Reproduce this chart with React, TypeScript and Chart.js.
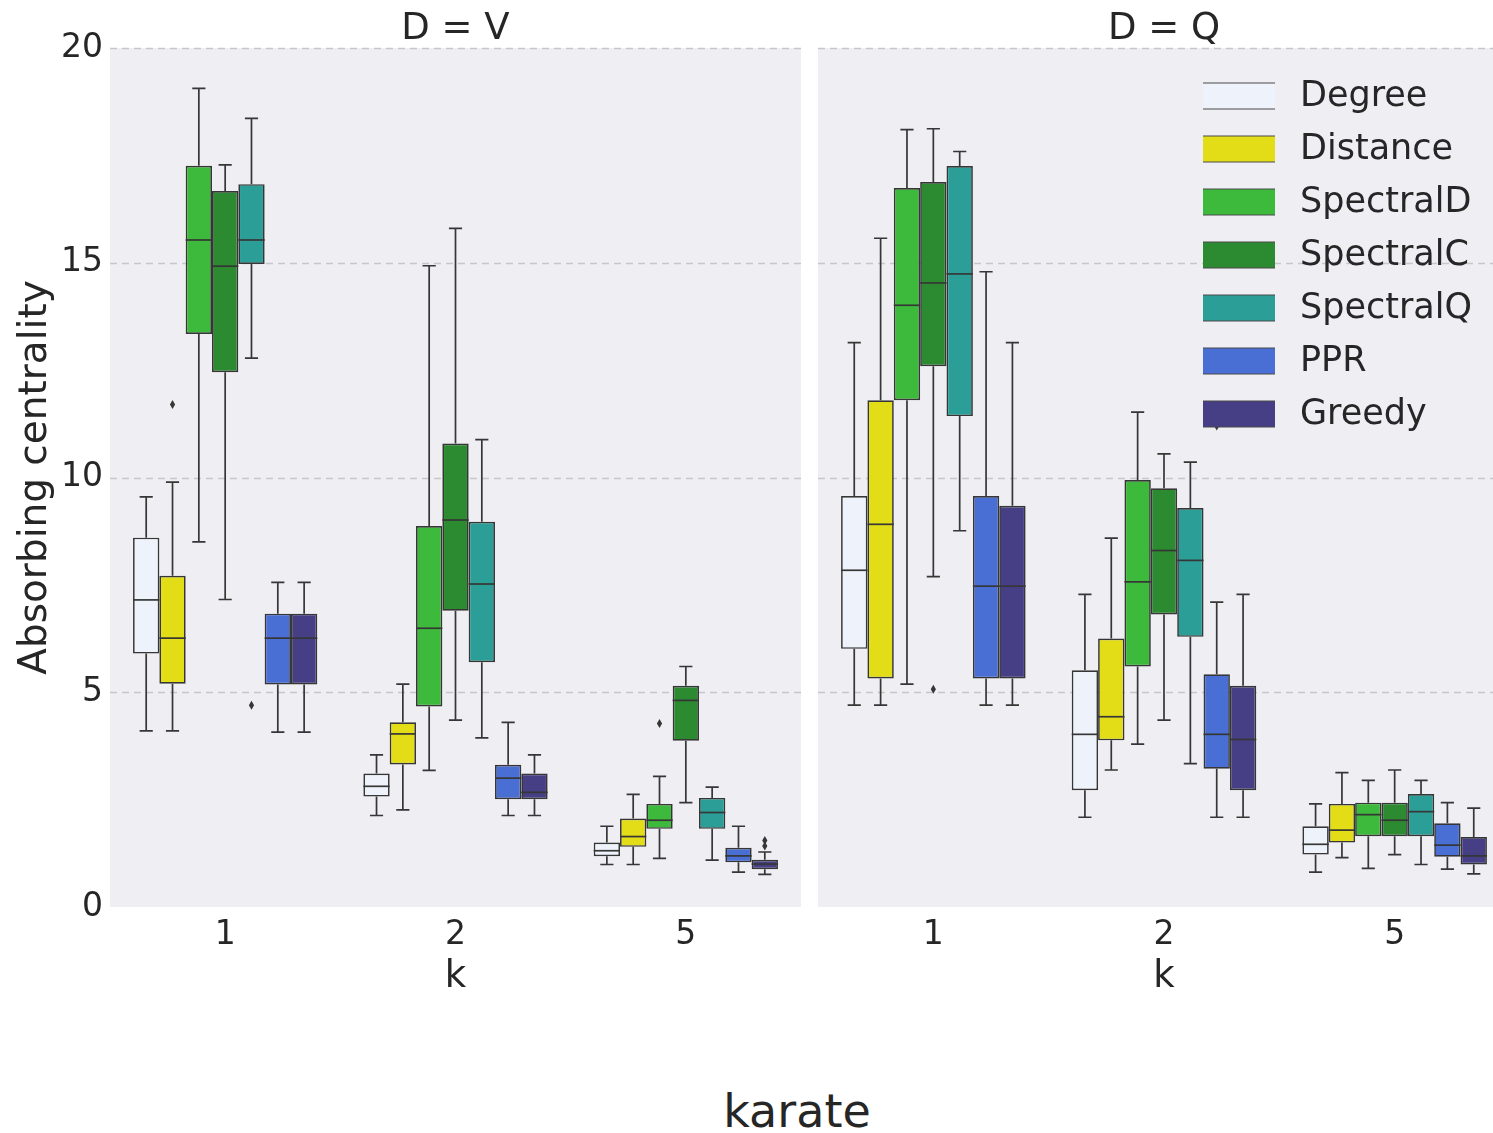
import React, { useEffect, useRef } from 'react';
import { Chart, registerables } from 'chart.js';

Chart.register(...registerables);

// ---------- data ----------
const kLabels = ['1', '2', '5'];
const methodNames = ['Degree', 'Distance', 'SpectralD', 'SpectralC', 'SpectralQ', 'PPR', 'Greedy'];
const methodColors = ['#eef3fb', '#e3dd17', '#3dba3b', '#2c8a30', '#2b9f97', '#4a6fd4', '#463f85'];
const yTickValues = [0, 5, 10, 15, 20];
const facetTitles = ['D = V', 'D = Q'];
const yAxisTitle = 'Absorbing centrality';
const xAxisTitle = 'k';
const figureTitle = 'karate';

// five-number summaries per k: [whiskerLow, q1, median, q3, whiskerHigh]
// facet D = V
const dvDegree = [[4.1, 5.9, 7.15, 8.6, 9.55], [2.13, 2.57, 2.81, 3.11, 3.54], [0.99, 1.18, 1.31, 1.5, 1.88]];
const dvDistance = [[4.1, 5.2, 6.26, 7.71, 9.89], [2.26, 3.32, 4.03, 4.3, 5.19], [0.99, 1.4, 1.64, 2.06, 2.62]];
const dvSpectralD = [[8.5, 13.34, 15.53, 17.26, 19.06], [3.18, 4.67, 6.49, 8.87, 14.93], [1.13, 1.82, 2.02, 2.4, 3.04]];
const dvSpectralC = [[7.16, 12.45, 14.92, 16.67, 17.28], [4.35, 6.9, 9.01, 10.79, 15.8], [2.43, 3.87, 4.81, 5.15, 5.6]];
const dvSpectralQ = [[12.78, 14.97, 15.53, 16.83, 18.36], [3.94, 5.7, 7.52, 8.97, 10.88], [1.09, 1.82, 2.2, 2.54, 2.79]];
const dvPPR = [[4.07, 5.18, 6.26, 6.83, 7.56], [2.13, 2.51, 3.0, 3.31, 4.3], [0.81, 1.04, 1.19, 1.38, 1.88]];
const dvGreedy = [[4.07, 5.18, 6.26, 6.83, 7.56], [2.13, 2.51, 2.67, 3.11, 3.54], [0.76, 0.88, 1.0, 1.1, 1.28]];
// outliers: [methodIndex, kIndex, value]
const dvOutliers = [[1, 0, 11.7], [4, 0, 4.7], [2, 2, 4.27], [6, 2, 1.42], [6, 2, 1.55]];

// facet D = Q
const dqDegree = [[4.7, 6.01, 7.84, 9.57, 13.14], [2.09, 2.72, 4.02, 5.51, 7.28], [0.81, 1.22, 1.46, 1.88, 2.4]];
const dqDistance = [[4.7, 5.32, 8.91, 11.8, 15.57], [3.19, 3.88, 4.43, 6.25, 8.59], [1.15, 1.5, 1.79, 2.4, 3.13]];
const dqSpectralD = [[5.19, 11.8, 14.01, 16.74, 18.1], [3.79, 5.6, 7.57, 9.94, 11.52], [0.9, 1.65, 2.15, 2.43, 2.95]];
const dqSpectralC = [[7.69, 12.59, 14.53, 16.88, 18.12], [4.35, 6.81, 8.3, 9.75, 10.55], [1.22, 1.65, 2.02, 2.43, 3.19]];
const dqSpectralQ = [[8.76, 11.43, 14.74, 17.25, 17.59], [3.34, 6.29, 8.07, 9.29, 10.36], [0.99, 1.65, 2.22, 2.63, 2.95]];
const dqPPR = [[4.7, 5.32, 7.47, 9.57, 14.79], [2.09, 3.22, 4.02, 5.42, 7.1], [0.88, 1.17, 1.44, 1.95, 2.43]];
const dqGreedy = [[4.7, 5.32, 7.47, 9.34, 13.14], [2.09, 2.72, 3.9, 5.15, 7.28], [0.77, 0.99, 1.19, 1.63, 2.3]];
const dqOutliers = [[3, 0, 5.07], [5, 1, 11.2]];

const dvStats = [dvDegree, dvDistance, dvSpectralD, dvSpectralC, dvSpectralQ, dvPPR, dvGreedy];
const dqStats = [dqDegree, dqDistance, dqSpectralD, dqSpectralC, dqSpectralQ, dqPPR, dqGreedy];

// ---------- styles ----------
const FONT = "'DejaVu Sans', sans-serif";
const TEXT = '#262626';
const PANEL_BG = '#eeeef3';
const GRID = '#c6c6cc';
const LINE = '#363636';

const boxPlugin = {
  id: 'boxExtras',
  beforeDraw(chart: any) {
    const { ctx, chartArea: a } = chart;
    const y = chart.scales.y;
    ctx.save();
    ctx.fillStyle = PANEL_BG;
    ctx.fillRect(a.left, a.top, a.right - a.left, a.bottom - a.top);
    ctx.strokeStyle = GRID;
    ctx.lineWidth = 1.3;
    ctx.setLineDash([7, 5]);
    for (const v of yTickValues) {
      if (v === 0) continue;
      const py = Math.round(y.getPixelForValue(v)) + 0.5;
      ctx.beginPath();
      ctx.moveTo(a.left, py);
      ctx.lineTo(a.right, py);
      ctx.stroke();
    }
    ctx.restore();
  },
  beforeDatasetsDraw(chart: any, _args: any, opts: any) {
    const { ctx } = chart;
    const y = chart.scales.y;
    const stats = opts.stats as number[][][];
    ctx.save();
    ctx.strokeStyle = LINE;
    ctx.lineWidth = 1.7;
    stats.forEach((method, i) => {
      const meta = chart.getDatasetMeta(i);
      method.forEach((s, j) => {
        const el: any = meta.data[j];
        if (!el) return;
        const x = el.x;
        const cw = el.width / 4;
        const pLo = y.getPixelForValue(s[0]);
        const pQ1 = y.getPixelForValue(s[1]);
        const pQ3 = y.getPixelForValue(s[3]);
        const pHi = y.getPixelForValue(s[4]);
        ctx.beginPath();
        ctx.moveTo(x, pQ3);
        ctx.lineTo(x, pHi);
        ctx.moveTo(x - cw, pHi);
        ctx.lineTo(x + cw, pHi);
        ctx.moveTo(x, pQ1);
        ctx.lineTo(x, pLo);
        ctx.moveTo(x - cw, pLo);
        ctx.lineTo(x + cw, pLo);
        ctx.stroke();
      });
    });
    ctx.restore();
  },
  afterDatasetsDraw(chart: any, _args: any, opts: any) {
    const { ctx, chartArea: a } = chart;
    const y = chart.scales.y;
    const stats = opts.stats as number[][][];
    ctx.save();
    ctx.strokeStyle = LINE;
    ctx.lineWidth = 1.7;
    stats.forEach((method, i) => {
      const meta = chart.getDatasetMeta(i);
      method.forEach((s, j) => {
        const el: any = meta.data[j];
        if (!el) return;
        const pm = y.getPixelForValue(s[2]);
        ctx.beginPath();
        ctx.moveTo(el.x - el.width / 2, pm);
        ctx.lineTo(el.x + el.width / 2, pm);
        ctx.stroke();
      });
    });
    ctx.fillStyle = LINE;
    for (const o of opts.outliers as number[][]) {
      const el: any = chart.getDatasetMeta(o[0]).data[o[1]];
      if (!el) continue;
      const px = el.x;
      const py = y.getPixelForValue(o[2]);
      ctx.beginPath();
      ctx.moveTo(px, py - 4.5);
      ctx.lineTo(px + 2.6, py);
      ctx.lineTo(px, py + 4.5);
      ctx.lineTo(px - 2.6, py);
      ctx.closePath();
      ctx.fill();
    }
    if (opts.showLegend) {
      const left = a.left + 385;
      const rowH = 53;
      const top0 = a.top + 48;
      ctx.font = `35px ${FONT}`;
      ctx.textBaseline = 'middle';
      ctx.textAlign = 'left';
      chart.data.datasets.forEach((ds: any, i: number) => {
        const cy = top0 + i * rowH;
        ctx.fillStyle = ds.backgroundColor;
        ctx.fillRect(left, cy - 13, 72, 26);
        ctx.strokeStyle = '#4a4a4a';
        ctx.lineWidth = 1.2;
        ctx.beginPath();
        ctx.moveTo(left, cy - 13);
        ctx.lineTo(left + 72, cy - 13);
        ctx.moveTo(left, cy + 13);
        ctx.lineTo(left + 72, cy + 13);
        ctx.stroke();
        ctx.fillStyle = TEXT;
        ctx.fillText(ds.label, left + 97, cy + 1);
      });
    }
    ctx.restore();
  },
};

function makeConfig(facet: number) {
  const stats = facet === 0 ? dvStats : dqStats;
  const outliers = facet === 0 ? dvOutliers : dqOutliers;
  const first = facet === 0;
  return {
    type: 'bar',
    data: {
      labels: kLabels,
      datasets: methodNames.map((name, i) => ({
        label: name,
        data: stats[i].map((s) => [s[1], s[3]]),
        backgroundColor: methodColors[i],
        borderColor: LINE,
        borderWidth: 1.7,
        borderSkipped: false,
        categoryPercentage: 0.8,
        barPercentage: 1.0,
      })),
    },
    options: {
      animation: false,
      responsive: false,
      maintainAspectRatio: false,
      events: [],
      layout: { padding: first ? { left: 0, right: 9, top: 0, bottom: 0 } : { left: 8, right: 0, top: 0, bottom: 0 } },
      plugins: {
        legend: { display: false },
        tooltip: { enabled: false },
        title: {
          display: true,
          fullSize: false,
          text: facetTitles[facet],
          color: TEXT,
          font: { family: FONT, size: 37, weight: 'normal', lineHeight: 1.0 },
          padding: { top: 11, bottom: 0 },
        },
        boxExtras: { stats, outliers, showLegend: !first },
      },
      scales: {
        x: {
          type: 'category',
          grid: { display: false, drawTicks: false },
          border: { display: false },
          ticks: { color: TEXT, font: { family: FONT, size: 33 }, padding: 9 },
          title: {
            display: true,
            text: xAxisTitle,
            color: TEXT,
            font: { family: FONT, size: 37 },
            padding: { top: 0, bottom: 10 },
          },
          afterFit: (s: any) => {
            s.height = 103;
          },
        },
        y: {
          min: 0,
          max: 20,
          grid: { display: false, drawTicks: false },
          border: { display: false },
          ticks: {
            display: first,
            stepSize: 5,
            color: TEXT,
            font: { family: FONT, size: 33 },
            padding: 7,
          },
          title: {
            display: first,
            text: yAxisTitle,
            color: TEXT,
            font: { family: FONT, size: 39 },
            padding: { top: 12, bottom: 0 },
          },
          afterFit: (s: any) => {
            s.width = first ? 110 : 0;
          },
        },
      },
    },
    plugins: [boxPlugin],
  };
}

function Facet({ facet, left, width }: { facet: number; left: number; width: number }) {
  const ref = useRef<HTMLCanvasElement | null>(null);
  useEffect(() => {
    if (!ref.current) return;
    const chart = new Chart(ref.current, makeConfig(facet) as any);
    return () => chart.destroy();
  }, [facet]);
  return (
    <canvas
      ref={ref}
      width={width}
      height={1010}
      style={{ position: 'absolute', left, top: 0, width, height: 1010 }}
    />
  );
}

export default function App() {
  return (
    <div
      style={{
        position: 'fixed',
        left: 0,
        top: 0,
        width: 1493,
        height: 1133,
        overflow: 'hidden',
        background: '#ffffff',
      }}
    >
      <Facet facet={0} left={0} width={810} />
      <Facet facet={1} left={810} width={700} />
      <div
        style={{
          position: 'absolute',
          left: 797,
          top: 1086,
          transform: 'translateX(-50%)',
          fontFamily: FONT,
          fontSize: 46,
          lineHeight: '50px',
          color: TEXT,
          whiteSpace: 'nowrap',
        }}
      >
        {figureTitle}
      </div>
    </div>
  );
}
